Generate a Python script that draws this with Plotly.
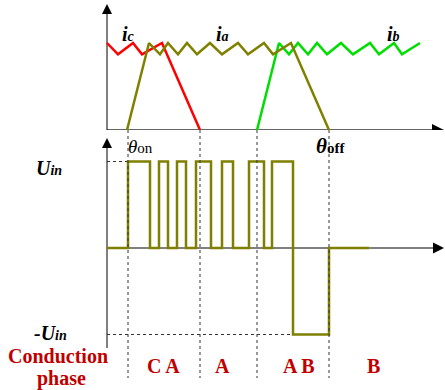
import plotly.graph_objects as go

# rotor position (drawing units along the shared horizontal axis)
x_origin = 107
x_arrow = 445
theta_on = 128
theta_ic_zero = 200
theta_ib_start = 257
theta_off = 329

# phase currents, normalised to the upper hysteresis limit
ic_x = [107, 118, 133, 142, 162, 200]
ic_y = [1.0, 0.87, 1.0, 0.87, 1.0, 0.0]

ia_x = [127, 149, 160, 168, 178, 187, 197, 210, 222, 238, 248, 264, 273, 291, 329]
ia_y = [0.0, 1.0, 0.87, 1.0, 0.87, 1.0, 0.87, 1.0, 0.87, 1.0, 0.87, 1.0, 0.87, 1.0, 0.0]

ib_x = [257, 279, 289, 298, 308, 317, 327, 341, 353, 370, 379, 394, 402, 420]
ib_y = [0.0, 1.0, 0.87, 1.0, 0.87, 1.0, 0.87, 1.0, 0.87, 1.0, 0.87, 1.0, 0.87, 1.0]

# converter voltage, normalised to Uin (switching instants and levels)
u_x = [107, 128, 150, 159, 168, 177, 186, 196, 211, 222, 233, 249, 264, 272, 293, 329, 369]
u_y = [0, 1, 0, 1, 0, 1, 0, 1, 0, 1, 0, 1, 0, 1, -1, 0, 0]

phase_labels = ['C A', 'A', 'A B', 'B']
phase_label_x = [163, 222, 299, 373]

OLIVE = '#808000'
RED = '#ff0000'
GREEN = '#00dd00'
TEXT_RED = '#c00000'
FONT = 'Liberation Serif'

W, H = 445, 390


def py(p):
    """pixel row -> paper fraction"""
    return 1 - p / H


fig = go.Figure()

# top panel axes (currents)
fig.add_trace(go.Scatter(x=[x_origin, x_arrow - 10], y=[0, 0], mode='lines',
                         line=dict(color='#666666', width=2), yaxis='y'))
fig.add_trace(go.Scatter(x=[x_arrow - 1], y=[0], mode='markers', yaxis='y',
                         marker=dict(symbol='arrow-right', size=12, color='black')))
fig.add_trace(go.Scatter(x=[x_origin, x_origin], y=[0, 1.4], mode='lines',
                         line=dict(color='black', width=1), yaxis='y'))
fig.add_trace(go.Scatter(x=[x_origin], y=[1.448], mode='markers', yaxis='y',
                         marker=dict(symbol='arrow-up', size=10, color='black')))

# bottom panel axes (voltage)
fig.add_trace(go.Scatter(x=[x_origin, x_arrow - 10], y=[0, 0], mode='lines',
                         line=dict(color='black', width=1), yaxis='y2'))
fig.add_trace(go.Scatter(x=[x_arrow - 1], y=[0], mode='markers', yaxis='y2',
                         marker=dict(symbol='arrow-right', size=11, color='black')))
fig.add_trace(go.Scatter(x=[x_origin, x_origin], y=[-1.156, 1.2], mode='lines',
                         line=dict(color='black', width=1), yaxis='y2'))
fig.add_trace(go.Scatter(x=[x_origin], y=[1.272], mode='markers', yaxis='y2',
                         marker=dict(symbol='arrow-up', size=10, color='black')))

# dotted level lines for +Uin and -Uin
fig.add_trace(go.Scatter(x=[x_origin, theta_on], y=[1, 1], mode='lines', yaxis='y2',
                         line=dict(color='#333333', width=1, dash='dot')))
fig.add_trace(go.Scatter(x=[x_origin, u_x[u_y.index(-1)]], y=[-1, -1], mode='lines', yaxis='y2',
                         line=dict(color='#333333', width=1, dash='dot')))

# vertical guide lines at the commutation angles
for xv in [theta_on, theta_ic_zero, theta_ib_start, theta_off]:
    fig.add_shape(type='line', xref='x', yref='paper', x0=xv, x1=xv,
                  y0=py(130), y1=py(378), line=dict(color='#333333', width=1, dash='dot'))

# currents
fig.add_trace(go.Scatter(x=ic_x, y=ic_y, mode='lines', yaxis='y',
                         line=dict(color=RED, width=2.5)))
fig.add_trace(go.Scatter(x=ib_x, y=ib_y, mode='lines', yaxis='y',
                         line=dict(color=GREEN, width=2.5)))
fig.add_trace(go.Scatter(x=ia_x, y=ia_y, mode='lines', yaxis='y',
                         line=dict(color=OLIVE, width=2.5)))

# voltage
fig.add_trace(go.Scatter(x=u_x, y=u_y, mode='lines', line_shape='hv', yaxis='y2',
                         line=dict(color=OLIVE, width=2.5)))

ann = []


def label(x, y, text, size, color='black'):
    ann.append(dict(x=x, y=py(y), xref='x', yref='paper', text=text, showarrow=False,
                    xanchor='center', yanchor='middle',
                    font=dict(family=FONT, size=size, color=color)))


sub = "<span style='font-size:14px'>%s</span>"
label(128, 34, "<b><i>i" + sub % 'c' + "</i></b>", 20)
label(222, 34, "<b><i>i" + sub % 'a' + "</i></b>", 20)
label(393, 34, "<b><i>i" + sub % 'b' + "</i></b>", 20)
label(140, 146, "<i>θ</i>" + "<span style='font-size:15px'>on</span>", 19)
label(330, 146, "<b><i>θ</i></b>" + "<b><span style='font-size:15px'>off</span></b>", 21)
label(49, 168, "<b><i>U" + sub % 'in' + "</i></b>", 20)
label(50, 333, "<b><i>-U" + sub % 'in' + "</i></b>", 20)
label(58, 356, "<b>Conduction</b>", 20, TEXT_RED)
label(61, 378, "<b>phase</b>", 20, TEXT_RED)
for name, xl in zip(phase_labels, phase_label_x):
    label(xl, 366, "<b>" + name + "</b>", 20, TEXT_RED)

fig.update_layout(
    width=W, height=H,
    margin=dict(l=0, r=0, t=0, b=0),
    paper_bgcolor='white', plot_bgcolor='white',
    showlegend=False,
    xaxis=dict(range=[0, W], visible=False, fixedrange=True),
    yaxis=dict(domain=[py(130), 1], range=[0, 130 / 87], visible=False, fixedrange=True),
    yaxis2=dict(domain=[0, py(132)], range=[-(390 - 248) / 86.5, (248 - 132) / 86.5],
                visible=False, fixedrange=True),
    annotations=ann,
)

# drop the page's default body margin so the figure sits at the window corner
fig.write_html("out.html", config={'displayModeBar': False},
               post_script="document.body.style.margin='0';")
